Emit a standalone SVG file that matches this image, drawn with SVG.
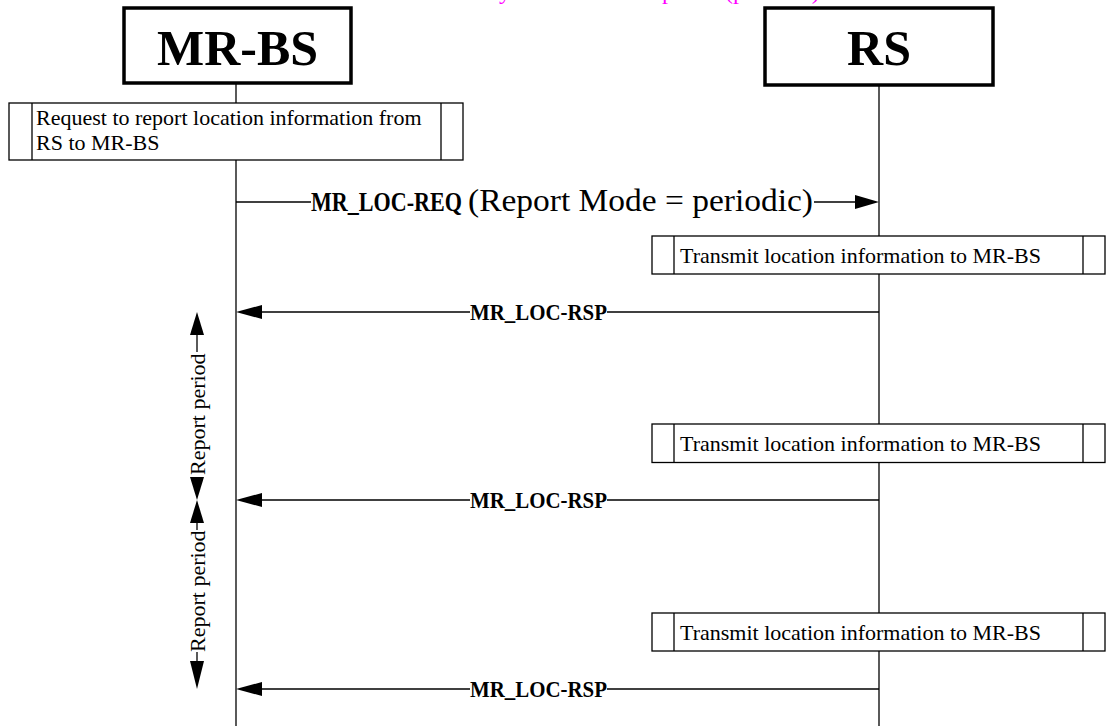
<svg xmlns="http://www.w3.org/2000/svg" width="1106" height="726" viewBox="0 0 1106 726">
<style>
text{font-family:"Liberation Serif","Times New Roman",serif;fill:#000}
.hdr{fill:#fff;stroke:#000;stroke-width:3.5}
.box{fill:#fff;stroke:#000;stroke-width:1.3}
.ln{stroke:#000;stroke-width:1.3;fill:none}
.big{font-size:50px;font-weight:bold;text-anchor:middle}
.t{font-size:22px}
.b{font-weight:bold}
.ah{fill:#000}
.mag{fill:#ff00ff;font-size:24px}
</style>
<text class="mag" y="-1"><tspan x="511" text-anchor="end">Location information sent by</tspan><tspan x="530">the RS on</tspan><tspan x="650">update</tspan><tspan x="725">(periodic)</tspan></text>
<g id="lifelines">
<line class="ln" x1="236" y1="83" x2="236" y2="103"/>
<line class="ln" x1="236" y1="160" x2="236" y2="726"/>
<line class="ln" x1="879" y1="85" x2="879" y2="726"/>
</g>
<g id="mrbs">
<rect class="hdr" x="124" y="8" width="227" height="75"/>
<text class="big" x="237.5" y="65">MR-BS</text>
</g>
<g id="rs">
<rect class="hdr" x="765" y="8" width="228" height="77"/>
<text class="big" x="879" y="65">RS</text>
</g>
<g id="request">
<rect class="box" x="9" y="103" width="454" height="57"/>
<line class="ln" x1="32" y1="103" x2="32" y2="160"/>
<line class="ln" x1="441" y1="103" x2="441" y2="160"/>
<text class="t" x="36" y="125">Request to report location information from</text>
<text class="t" x="36" y="150">RS to MR-BS</text>
</g>
<g id="transmit1">
<rect class="box" x="652" y="236" width="453" height="38"/>
<line class="ln" x1="674" y1="236" x2="674" y2="274"/>
<line class="ln" x1="1083" y1="236" x2="1083" y2="274"/>
<text class="t" x="680" y="262.5" font-size="21">Transmit location information to MR-BS</text>
</g>
<g id="transmit2">
<rect class="box" x="652" y="424" width="453" height="38.5"/>
<line class="ln" x1="674" y1="424" x2="674" y2="462.5"/>
<line class="ln" x1="1083" y1="424" x2="1083" y2="462.5"/>
<text class="t" x="680" y="450.5" font-size="21">Transmit location information to MR-BS</text>
</g>
<g id="transmit3">
<rect class="box" x="652" y="613" width="453" height="38"/>
<line class="ln" x1="674" y1="613" x2="674" y2="651"/>
<line class="ln" x1="1083" y1="613" x2="1083" y2="651"/>
<text class="t" x="680" y="640" font-size="21">Transmit location information to MR-BS</text>
</g>
<g id="connectors">
<line class="ln" x1="236" y1="202" x2="311" y2="202"/>
<line class="ln" x1="814" y1="202" x2="856" y2="202"/>
<polygon class="ah" points="879,202 855,195 855,209"/>
<text y="211"><tspan class="b" x="311" font-size="27" textLength="151" lengthAdjust="spacingAndGlyphs">MR_LOC-REQ</tspan><tspan x="468" font-size="32" textLength="345" lengthAdjust="spacingAndGlyphs">(Report Mode = periodic)</tspan></text>

<line class="ln" x1="259" y1="312" x2="470" y2="312"/>
<line class="ln" x1="607" y1="312" x2="879" y2="312"/>
<polygon class="ah" points="236,312 262,305 262,319"/>
<text class="b" x="470" y="319.5" font-size="24" textLength="137" lengthAdjust="spacingAndGlyphs">MR_LOC-RSP</text>

<line class="ln" x1="259" y1="500" x2="470" y2="500"/>
<line class="ln" x1="607" y1="500" x2="879" y2="500"/>
<polygon class="ah" points="236,500 262,493 262,507"/>
<text class="b" x="470" y="507.5" font-size="24" textLength="137" lengthAdjust="spacingAndGlyphs">MR_LOC-RSP</text>

<line class="ln" x1="259" y1="689" x2="470" y2="689"/>
<line class="ln" x1="607" y1="689" x2="879" y2="689"/>
<polygon class="ah" points="236,689 262,682 262,696"/>
<text class="b" x="470" y="696.5" font-size="24" textLength="137" lengthAdjust="spacingAndGlyphs">MR_LOC-RSP</text>
</g>
<g id="period1">
<polygon class="ah" points="197,312 190,335 204,335"/>
<line class="ln" x1="197" y1="334" x2="197" y2="352"/>
<polygon class="ah" points="197,500 190,477 204,477"/>
<text class="t" transform="translate(205,475) rotate(-90)">Report period</text>
</g>
<g id="period2">
<polygon class="ah" points="197,500 190,523 204,523"/>
<line class="ln" x1="197" y1="522" x2="197" y2="530"/>
<line class="ln" x1="197" y1="652" x2="197" y2="662"/>
<polygon class="ah" points="197,689 190,661 204,661"/>
<text class="t" transform="translate(205,652) rotate(-90)">Report period</text>
</g>
</svg>
